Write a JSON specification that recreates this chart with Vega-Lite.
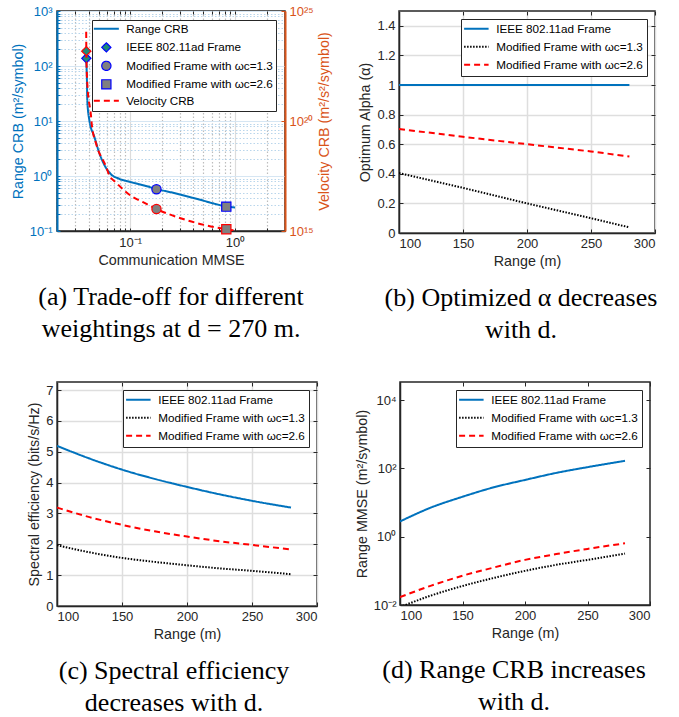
{
  "$schema": "https://vega.github.io/schema/vega-lite/v6.json",
  "padding": {"left": 10, "top": 4, "right": 0, "bottom": 0},
  "config": {
    "font": "Liberation Sans",
    "view": {"stroke": "#262626", "strokeWidth": 1.5},
    "axis": {"labelFont": "Liberation Sans", "labelFontSize": 13, "labelColor": "#262626", "titleFont": "Liberation Sans", "titleFontSize": 14.3, "titleFontWeight": "normal", "titleColor": "#262626", "domainColor": "#262626", "domainWidth": 1.5, "tickColor": "#262626", "tickSize": -4, "tickWidth": 1, "labelPadding": 8, "gridColor": "#dedede", "gridWidth": 1.5, "titlePadding": 4},
    "legend": {"labelFont": "Liberation Sans", "labelFontSize": 11.7, "labelColor": "#000000", "strokeColor": "#262626", "fillColor": "#ffffff", "padding": 3, "orient": "top-right", "offset": 8, "rowPadding": 3.5, "symbolStrokeWidth": 2, "labelLimit": 300, "title": null, "symbolSize": 144, "symbolOffset": 5.5, "labelOffset": 14},
    "title": {"font": "Liberation Serif", "fontSize": 26, "fontWeight": "normal", "color": "#000000", "orient": "bottom", "anchor": "middle", "frame": "group", "lineHeight": 32, "offset": 17}
  },
  "datasets": {
    "rangeA": [
      {"x": 0.0380, "y": 138, "series": "Range CRB"},
      {"x": 0.0386, "y": 55.6, "series": "Range CRB"},
      {"x": 0.0389, "y": 24.1, "series": "Range CRB"},
      {"x": 0.0407, "y": 10.4, "series": "Range CRB"},
      {"x": 0.0454, "y": 5.19, "series": "Range CRB"},
      {"x": 0.0507, "y": 2.62, "series": "Range CRB"},
      {"x": 0.0565, "y": 1.6, "series": "Range CRB"},
      {"x": 0.0654, "y": 1.08, "series": "Range CRB"},
      {"x": 0.0786, "y": 0.89, "series": "Range CRB"},
      {"x": 0.1, "y": 0.778, "series": "Range CRB"},
      {"x": 0.136, "y": 0.672, "series": "Range CRB"},
      {"x": 0.178, "y": 0.58, "series": "Range CRB"},
      {"x": 0.262, "y": 0.491, "series": "Range CRB"},
      {"x": 0.454, "y": 0.374, "series": "Range CRB"},
      {"x": 0.826, "y": 0.28, "series": "Range CRB"},
      {"x": 1.0, "y": 0.267, "series": "Range CRB"}
    ],
    "velA": [
      {"x": 0.0380, "v": 1.15e24, "series": "Velocity CRB"},
      {"x": 0.0381, "v": 1.5e23, "series": "Velocity CRB"},
      {"x": 0.0389, "v": 5.2e21, "series": "Velocity CRB"},
      {"x": 0.0423, "v": 1.58e20, "series": "Velocity CRB"},
      {"x": 0.043, "v": 6.6e19, "series": "Velocity CRB"},
      {"x": 0.0471, "v": 9.8e18, "series": "Velocity CRB"},
      {"x": 0.0588, "v": 8.3e17, "series": "Velocity CRB"},
      {"x": 0.063, "v": 3.5e17, "series": "Velocity CRB"},
      {"x": 0.0731, "v": 1.6e17, "series": "Velocity CRB"},
      {"x": 0.105, "v": 3.6e16, "series": "Velocity CRB"},
      {"x": 0.131, "v": 2.1e16, "series": "Velocity CRB"},
      {"x": 0.178, "v": 1.0e16, "series": "Velocity CRB"},
      {"x": 0.339, "v": 3.2e15, "series": "Velocity CRB"},
      {"x": 0.826, "v": 1.2e15, "series": "Velocity CRB"},
      {"x": 1.0, "v": 1.05e15, "series": "Velocity CRB"}
    ],
    "markA": [
      {"x": 0.0381, "y": 138, "v": 1.5e23, "series": "IEEE 802.11ad Frame"},
      {"x": 0.178, "y": 0.573, "v": 1.0e16, "series": "Modified Frame with ωc=1.3"},
      {"x": 0.826, "y": 0.277, "v": 1.2e15, "series": "Modified Frame with ωc=2.6"}
    ],
    "alphaB": [
      {"r": 100, "y": 1, "series": "IEEE 802.11ad Frame"},
      {"r": 280, "y": 1, "series": "IEEE 802.11ad Frame"},
      {"r": 100, "y": 0.405, "series": "Modified Frame with ωc=1.3"},
      {"r": 150, "y": 0.305, "series": "Modified Frame with ωc=1.3"},
      {"r": 200, "y": 0.2, "series": "Modified Frame with ωc=1.3"},
      {"r": 250, "y": 0.1, "series": "Modified Frame with ωc=1.3"},
      {"r": 280, "y": 0.038, "series": "Modified Frame with ωc=1.3"},
      {"r": 100, "y": 0.703, "series": "Modified Frame with ωc=2.6"},
      {"r": 150, "y": 0.65, "series": "Modified Frame with ωc=2.6"},
      {"r": 200, "y": 0.6, "series": "Modified Frame with ωc=2.6"},
      {"r": 250, "y": 0.551, "series": "Modified Frame with ωc=2.6"},
      {"r": 280, "y": 0.517, "series": "Modified Frame with ωc=2.6"}
    ],
    "seC": [
      {"r": 100, "y": 5.19, "series": "IEEE 802.11ad Frame"},
      {"r": 125, "y": 4.78, "series": "IEEE 802.11ad Frame"},
      {"r": 150, "y": 4.42, "series": "IEEE 802.11ad Frame"},
      {"r": 175, "y": 4.12, "series": "IEEE 802.11ad Frame"},
      {"r": 200, "y": 3.86, "series": "IEEE 802.11ad Frame"},
      {"r": 225, "y": 3.62, "series": "IEEE 802.11ad Frame"},
      {"r": 250, "y": 3.41, "series": "IEEE 802.11ad Frame"},
      {"r": 280, "y": 3.19, "series": "IEEE 802.11ad Frame"},
      {"r": 100, "y": 1.97, "series": "Modified Frame with ωc=1.3"},
      {"r": 125, "y": 1.74, "series": "Modified Frame with ωc=1.3"},
      {"r": 150, "y": 1.56, "series": "Modified Frame with ωc=1.3"},
      {"r": 175, "y": 1.43, "series": "Modified Frame with ωc=1.3"},
      {"r": 200, "y": 1.32, "series": "Modified Frame with ωc=1.3"},
      {"r": 225, "y": 1.22, "series": "Modified Frame with ωc=1.3"},
      {"r": 250, "y": 1.14, "series": "Modified Frame with ωc=1.3"},
      {"r": 280, "y": 1.03, "series": "Modified Frame with ωc=1.3"},
      {"r": 100, "y": 3.19, "series": "Modified Frame with ωc=2.6"},
      {"r": 125, "y": 2.88, "series": "Modified Frame with ωc=2.6"},
      {"r": 150, "y": 2.63, "series": "Modified Frame with ωc=2.6"},
      {"r": 175, "y": 2.42, "series": "Modified Frame with ωc=2.6"},
      {"r": 200, "y": 2.25, "series": "Modified Frame with ωc=2.6"},
      {"r": 225, "y": 2.1, "series": "Modified Frame with ωc=2.6"},
      {"r": 250, "y": 1.98, "series": "Modified Frame with ωc=2.6"},
      {"r": 280, "y": 1.83, "series": "Modified Frame with ωc=2.6"}
    ],
    "crbD": [
      {"r": 100, "y": 2.8, "series": "IEEE 802.11ad Frame"},
      {"r": 125, "y": 7.2, "series": "IEEE 802.11ad Frame"},
      {"r": 150, "y": 14.8, "series": "IEEE 802.11ad Frame"},
      {"r": 175, "y": 28, "series": "IEEE 802.11ad Frame"},
      {"r": 200, "y": 46, "series": "IEEE 802.11ad Frame"},
      {"r": 225, "y": 74, "series": "IEEE 802.11ad Frame"},
      {"r": 250, "y": 109, "series": "IEEE 802.11ad Frame"},
      {"r": 280, "y": 167, "series": "IEEE 802.11ad Frame"},
      {"r": 100, "y": 0.0087, "series": "Modified Frame with ωc=1.3"},
      {"r": 125, "y": 0.019, "series": "Modified Frame with ωc=1.3"},
      {"r": 150, "y": 0.036, "series": "Modified Frame with ωc=1.3"},
      {"r": 175, "y": 0.062, "series": "Modified Frame with ωc=1.3"},
      {"r": 200, "y": 0.1, "series": "Modified Frame with ωc=1.3"},
      {"r": 225, "y": 0.15, "series": "Modified Frame with ωc=1.3"},
      {"r": 250, "y": 0.21, "series": "Modified Frame with ωc=1.3"},
      {"r": 280, "y": 0.32, "series": "Modified Frame with ωc=1.3"},
      {"r": 100, "y": 0.017, "series": "Modified Frame with ωc=2.6"},
      {"r": 125, "y": 0.037, "series": "Modified Frame with ωc=2.6"},
      {"r": 150, "y": 0.072, "series": "Modified Frame with ωc=2.6"},
      {"r": 175, "y": 0.125, "series": "Modified Frame with ωc=2.6"},
      {"r": 200, "y": 0.21, "series": "Modified Frame with ωc=2.6"},
      {"r": 225, "y": 0.31, "series": "Modified Frame with ωc=2.6"},
      {"r": 250, "y": 0.44, "series": "Modified Frame with ωc=2.6"},
      {"r": 280, "y": 0.64, "series": "Modified Frame with ωc=2.6"}
    ]
  },
  "vconcat": [
    {
      "hconcat": [
        {
          "width": 228, "height": 220,
          "title": {"text": ["(a) Trade-off for different", "weightings at d = 270 m."]},
          "layer": [
            {
              "layer": [
                {
                  "data": {"name": "rangeA"},
                  "mark": {"type": "line", "strokeWidth": 2, "clip": true, "interpolate": "monotone"},
                  "encoding": {
                    "x": {"field": "x", "type": "quantitative", "scale": {"type": "log", "domain": [0.02, 3], "nice": false},
                      "axis": {"title": "Communication MMSE", "orient": "bottom", "values": [0.02,0.03,0.04,0.05,0.06,0.07,0.08,0.09,0.1,0.2,0.3,0.4,0.5,0.6,0.7,0.8,0.9,1,2,3],
                        "labelExpr": "datum.value == 0.1 ? '10⁻¹' : datum.value == 1 ? '10⁰' : ''",
                        "grid": true,
                        "gridDash": {"condition": {"test": "datum.value == 0.1 || datum.value == 1", "value": []}, "value": [1.5, 2]},
                        "gridColor": {"condition": {"test": "datum.value == 0.1 || datum.value == 1", "value": "#dcdcdc"}, "value": "#bdbdbd"},
                        "gridWidth": 1.2, "tickSize": -3}},
                    "y": {"field": "y", "type": "quantitative", "scale": {"type": "log", "domain": [0.1, 1000], "nice": false},
                      "axis": {"title": "Range CRB (m²/symbol)", "orient": "left",
                        "values": [0.1,0.2,0.3,0.4,0.5,0.6,0.7,0.8,0.9,1,2,3,4,5,6,7,8,9,10,20,30,40,50,60,70,80,90,100,200,300,400,500,600,700,800,900,1000],
                        "labelExpr": "datum.value == 0.1 ? '10⁻¹' : datum.value == 1 ? '10⁰' : datum.value == 10 ? '10¹' : datum.value == 100 ? '10²' : datum.value == 1000 ? '10³' : ''",
                        "grid": true,
                        "gridDash": {"condition": {"test": "datum.value == 0.1 || datum.value == 1 || datum.value == 10 || datum.value == 100 || datum.value == 1000", "value": []}, "value": [1.5, 2]},
                        "gridColor": {"condition": {"test": "datum.value == 0.1 || datum.value == 1 || datum.value == 10 || datum.value == 100 || datum.value == 1000", "value": "#d6e6f3"}, "value": "#b9d6ec"},
                        "gridWidth": 1.2, "tickSize": -3,
                        "domainColor": "#0072BD", "domainWidth": 2, "labelColor": "#0072BD", "titleColor": "#0072BD", "tickColor": "#0072BD"}},
                    "stroke": {"field": "series", "type": "nominal",
                      "scale": {"domain": ["Range CRB", "IEEE 802.11ad Frame", "Modified Frame with ωc=1.3", "Modified Frame with ωc=2.6", "Velocity CRB"], "range": ["#0072BD", "#0000FF", "#0000FF", "#0000FF", "#FF0000"]},
                      "legend": {"orient": "top-right", "offset": 9,
                        "encode": {"symbols": {"update": {
                          "shape": {"signal": "datum.value == 'Range CRB' || datum.value == 'Velocity CRB' ? 'stroke' : datum.value == 'IEEE 802.11ad Frame' ? 'diamond' : indexof(datum.value, '1.3') >= 0 ? 'circle' : 'square'"},
                          "fill": {"signal": "datum.value == 'IEEE 802.11ad Frame' ? '#1a8a7a' : indexof(datum.value, 'Modified') >= 0 ? '#808080' : 'transparent'"},
                          "size": {"signal": "datum.value == 'Range CRB' || datum.value == 'Velocity CRB' ? 625 : 85"},
                          "strokeWidth": {"signal": "datum.value == 'Range CRB' || datum.value == 'Velocity CRB' ? 2 : 1.2"},
                          "strokeDash": {"signal": "datum.value == 'Velocity CRB' ? [6, 4] : [1, 0]"}
                        }}}}},
                    "strokeDash": {"field": "series", "type": "nominal",
                      "scale": {"domain": ["Range CRB", "IEEE 802.11ad Frame", "Modified Frame with ωc=1.3", "Modified Frame with ωc=2.6", "Velocity CRB"], "range": [[1, 0], [1, 0], [1, 0], [1, 0], [6, 4]]},
                      "legend": null}
                  }
                },
                {
                  "data": {"name": "markA"},
                  "mark": {"type": "point", "filled": true, "size": 85, "strokeWidth": 1.2, "opacity": 1},
                  "encoding": {
                    "x": {"field": "x", "type": "quantitative"},
                    "y": {"field": "y", "type": "quantitative"},
                    "shape": {"field": "series", "type": "nominal",
                      "scale": {"domain": ["Range CRB", "IEEE 802.11ad Frame", "Modified Frame with ωc=1.3", "Modified Frame with ωc=2.6", "Velocity CRB"], "range": ["stroke", "diamond", "circle", "square", "stroke"]},
                      "legend": null},
                    "fill": {"field": "series", "type": "nominal",
                      "scale": {"domain": ["Range CRB", "IEEE 802.11ad Frame", "Modified Frame with ωc=1.3", "Modified Frame with ωc=2.6", "Velocity CRB"], "range": ["transparent", "#1a8a7a", "#808080", "#808080", "transparent"]},
                      "legend": null},
                    "stroke": {"field": "series", "type": "nominal"}
                  }
                }
              ]
            },
            {
              "layer": [
                {
                  "data": {"name": "velA"},
                  "mark": {"type": "line", "strokeWidth": 2, "clip": true, "interpolate": "monotone"},
                  "encoding": {
                    "x": {"field": "x", "type": "quantitative",
                      "axis": {"orient": "top", "title": null, "labels": false, "domain": false, "grid": false, "tickSize": -3,
                        "values": [0.02,0.03,0.04,0.05,0.06,0.07,0.08,0.09,0.1,0.2,0.3,0.4,0.5,0.6,0.7,0.8,0.9,1,2,3]}},
                    "y": {"field": "v", "type": "quantitative", "scale": {"type": "log", "domain": [1e15, 1e25], "nice": false},
                      "axis": {"title": "Velocity CRB (m²/s²/symbol)", "orient": "right", "values": [1e15, 1e20, 1e25],
                        "labelExpr": "datum.value == 1e15 ? '10¹⁵' : datum.value == 1e20 ? '10²⁰' : '10²⁵'",
                        "grid": false, "tickSize": -4, "titleAngle": 270, "titleBaseline": "top",
                        "domainColor": "#D95319", "domainWidth": 2, "labelColor": "#D95319", "titleColor": "#D95319", "tickColor": "#D95319"}},
                    "stroke": {"field": "series", "type": "nominal"},
                    "strokeDash": {"field": "series", "type": "nominal"}
                  }
                },
                {
                  "data": {"name": "markA"},
                  "mark": {"type": "point", "filled": true, "size": 85, "strokeWidth": 1.2, "stroke": "#FF0000", "opacity": 1},
                  "encoding": {
                    "x": {"field": "x", "type": "quantitative"},
                    "y": {"field": "v", "type": "quantitative"},
                    "shape": {"field": "series", "type": "nominal"},
                    "fill": {"field": "series", "type": "nominal"}
                  }
                }
              ]
            }
          ],
          "resolve": {"scale": {"y": "independent"}, "axis": {"x": "independent"}}
        },
        {
          "width": 256, "height": 222,
          "title": {"text": ["(b) Optimized α decreases", "with d."], "dx": -6},
          "data": {"name": "alphaB"},
          "layer": [
            {
              "mark": {"type": "line", "strokeWidth": 2, "clip": true},
              "encoding": {
                "x": {"field": "r", "type": "quantitative", "scale": {"domain": [100, 300], "nice": false}, "axis": {"title": "Range (m)", "orient": "bottom", "values": [100, 150, 200, 250, 300], "grid": true}},
                "y": {"field": "y", "type": "quantitative", "scale": {"domain": [0, 1.5], "nice": false}, "axis": {"title": "Optimum Alpha (α)", "orient": "left", "values": [0, 0.2, 0.4, 0.6, 0.8, 1, 1.2, 1.4], "format": ".1~f", "grid": true}},
                "stroke": {"field": "series", "type": "nominal", "scale": {"domain": ["IEEE 802.11ad Frame", "Modified Frame with ωc=1.3", "Modified Frame with ωc=2.6"], "range": ["#0072BD", "#000000", "#FF0000"]},
                  "legend": {"orient": "top-right", "offset": 8, "rowPadding": 5, "padding": 4,
                    "encode": {"symbols": {"update": {
                      "shape": {"signal": "datum.value == 'zzz' ? 'circle' : 'stroke'"},
                      "size": {"signal": "datum.value == 'zzz' ? 85 : 600"},
                      "strokeWidth": {"signal": "datum.value == 'zzz' ? 1 : 2"},
                      "strokeDash": {"signal": "indexof(datum.value, '1.3') >= 0 ? [1.5, 1.5] : indexof(datum.value, '2.6') >= 0 ? [6, 4] : [1, 0]"}}}}}},
                "strokeDash": {"field": "series", "type": "nominal", "scale": {"domain": ["IEEE 802.11ad Frame", "Modified Frame with ωc=1.3", "Modified Frame with ωc=2.6"], "range": [[1, 0], [1.5, 1.5], [6, 4]]}, "legend": null}
              }
            },
            {
              "mark": {"type": "line", "opacity": 0},
              "encoding": {
                "x": {"field": "r", "type": "quantitative", "axis": {"orient": "top", "title": null, "labels": false, "domain": false, "grid": false, "values": [100, 150, 200, 250, 300]}},
                "y": {"field": "y", "type": "quantitative", "axis": {"orient": "right", "title": null, "labels": false, "domain": false, "grid": false, "values": [0, 0.2, 0.4, 0.6, 0.8, 1, 1.2, 1.4]}}
              }
            }
          ],
          "resolve": {"axis": {"x": "independent", "y": "independent"}}
        }
      ],
      "spacing": 25,
      "resolve": {"scale": {"stroke": "independent", "strokeDash": "independent", "shape": "independent", "fill": "independent"}, "legend": {"stroke": "independent", "strokeDash": "independent", "shape": "independent", "fill": "independent"}}
    },
    {
      "hconcat": [
        {
          "width": 260, "height": 224,
          "title": {"text": ["(c) Spectral efficiency", "decreases with d."], "dx": -13},
          "data": {"name": "seC"},
          "layer": [
            {
              "mark": {"type": "line", "strokeWidth": 2, "clip": true, "interpolate": "monotone"},
              "encoding": {
                "x": {"field": "r", "type": "quantitative", "scale": {"domain": [100, 300], "nice": false}, "axis": {"title": "Range (m)", "orient": "bottom", "values": [100, 150, 200, 250, 300], "grid": true}},
                "y": {"field": "y", "type": "quantitative", "scale": {"domain": [0, 7.26], "nice": false}, "axis": {"title": "Spectral efficiency (bits/s/Hz)", "orient": "left", "values": [0, 1, 2, 3, 4, 5, 6, 7], "grid": true}},
                "stroke": {"field": "series", "type": "nominal", "scale": {"domain": ["IEEE 802.11ad Frame", "Modified Frame with ωc=1.3", "Modified Frame with ωc=2.6"], "range": ["#0072BD", "#000000", "#FF0000"]},
                  "legend": {"orient": "top-right", "offset": 8, "rowPadding": 5, "padding": 4,
                    "encode": {"symbols": {"update": {
                      "shape": {"signal": "datum.value == 'zzz' ? 'circle' : 'stroke'"},
                      "size": {"signal": "datum.value == 'zzz' ? 85 : 600"},
                      "strokeWidth": {"signal": "datum.value == 'zzz' ? 1 : 2"},
                      "strokeDash": {"signal": "indexof(datum.value, '1.3') >= 0 ? [1.5, 1.5] : indexof(datum.value, '2.6') >= 0 ? [6, 4] : [1, 0]"}}}}}},
                "strokeDash": {"field": "series", "type": "nominal", "scale": {"domain": ["IEEE 802.11ad Frame", "Modified Frame with ωc=1.3", "Modified Frame with ωc=2.6"], "range": [[1, 0], [1.5, 1.5], [6, 4]]}, "legend": null}
              }
            },
            {
              "mark": {"type": "line", "opacity": 0},
              "encoding": {
                "x": {"field": "r", "type": "quantitative", "axis": {"orient": "top", "title": null, "labels": false, "domain": false, "grid": false, "values": [100, 150, 200, 250, 300]}},
                "y": {"field": "y", "type": "quantitative", "axis": {"orient": "right", "title": null, "labels": false, "domain": false, "grid": false, "values": [0, 1, 2, 3, 4, 5, 6, 7]}}
              }
            }
          ],
          "resolve": {"axis": {"x": "independent", "y": "independent"}}
        },
        {
          "width": 250, "height": 223,
          "title": {"text": ["(d) Range CRB increases", "with d."], "dx": -11},
          "data": {"name": "crbD"},
          "layer": [
            {
              "mark": {"type": "line", "strokeWidth": 2, "clip": true, "interpolate": "monotone"},
              "encoding": {
                "x": {"field": "r", "type": "quantitative", "scale": {"domain": [100, 300], "nice": false}, "axis": {"title": "Range (m)", "orient": "bottom", "values": [100, 150, 200, 250, 300], "grid": false}},
                "y": {"field": "y", "type": "quantitative", "scale": {"type": "log", "domain": [0.01, 34000], "nice": false}, "axis": {"title": "Range MMSE (m²/symbol)", "orient": "left", "values": [0.01, 1, 100, 10000], "labelExpr": "datum.value == 0.01 ? '10⁻²' : datum.value == 1 ? '10⁰' : datum.value == 100 ? '10²' : '10⁴'", "grid": false}},
                "stroke": {"field": "series", "type": "nominal", "scale": {"domain": ["IEEE 802.11ad Frame", "Modified Frame with ωc=1.3", "Modified Frame with ωc=2.6"], "range": ["#0072BD", "#000000", "#FF0000"]},
                  "legend": {"orient": "top-right", "offset": 8, "rowPadding": 5, "padding": 4,
                    "encode": {"symbols": {"update": {
                      "shape": {"signal": "datum.value == 'zzz' ? 'circle' : 'stroke'"},
                      "size": {"signal": "datum.value == 'zzz' ? 85 : 600"},
                      "strokeWidth": {"signal": "datum.value == 'zzz' ? 1 : 2"},
                      "strokeDash": {"signal": "indexof(datum.value, '1.3') >= 0 ? [1.5, 1.5] : indexof(datum.value, '2.6') >= 0 ? [6, 4] : [1, 0]"}}}}}},
                "strokeDash": {"field": "series", "type": "nominal", "scale": {"domain": ["IEEE 802.11ad Frame", "Modified Frame with ωc=1.3", "Modified Frame with ωc=2.6"], "range": [[1, 0], [1.5, 1.5], [6, 4]]}, "legend": null}
              }
            },
            {
              "mark": {"type": "line", "opacity": 0},
              "encoding": {
                "x": {"field": "r", "type": "quantitative", "axis": {"orient": "top", "title": null, "labels": false, "domain": false, "grid": false, "values": [100, 150, 200, 250, 300]}},
                "y": {"field": "y", "type": "quantitative", "axis": {"orient": "right", "title": null, "labels": false, "domain": false, "grid": false, "values": [0.01, 1, 100, 10000]}}
              }
            }
          ],
          "resolve": {"axis": {"x": "independent", "y": "independent"}}
        }
      ],
      "spacing": 35,
      "resolve": {"scale": {"stroke": "independent", "strokeDash": "independent"}, "legend": {"stroke": "independent", "strokeDash": "independent"}}
    }
  ],
  "spacing": 35,
  "resolve": {"scale": {"stroke": "independent", "strokeDash": "independent", "shape": "independent", "fill": "independent"}, "legend": {"stroke": "independent", "strokeDash": "independent", "shape": "independent", "fill": "independent"}}
}
